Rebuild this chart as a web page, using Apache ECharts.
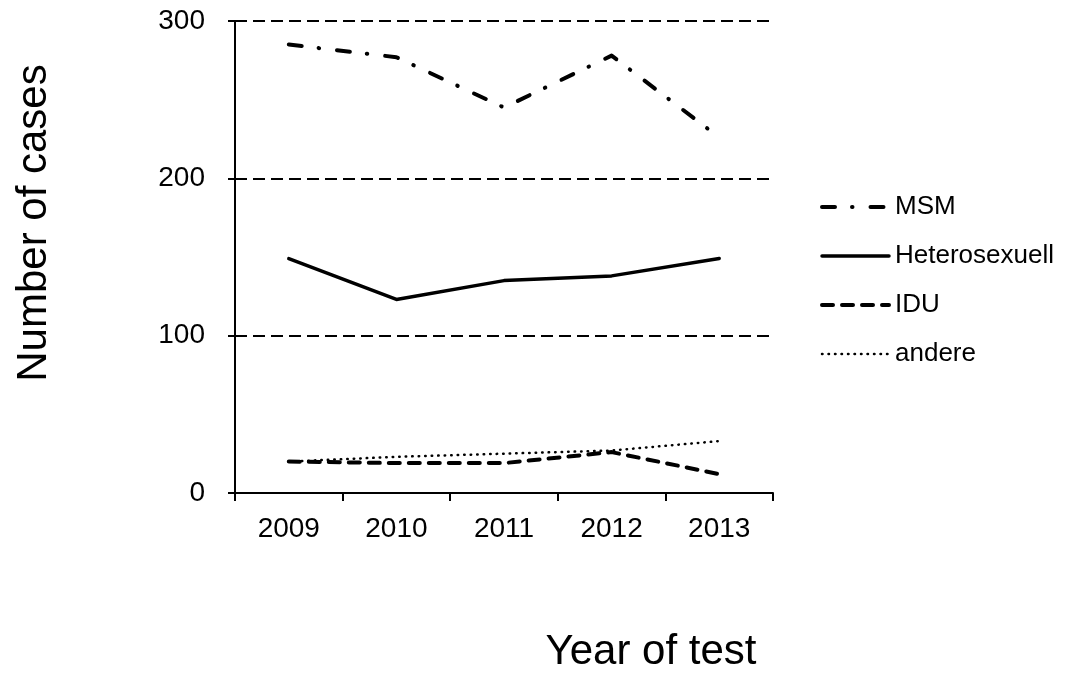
<!DOCTYPE html>
<html><head><meta charset="utf-8">
<script src="https://cdn.jsdelivr.net/npm/echarts@6/dist/echarts.min.js"></script>
<style>html,body{margin:0;padding:0;background:#fff}#c{width:1072px;height:691px}</style>
</head><body><div id="c"></div>
<script>
const years = ['2009','2010','2011','2012','2013'];
const msm = [285, 277, 245, 278, 226];
const hetero = [149, 123, 135, 138, 149];
const idu = [20, 19, 19, 26, 12];
const andere = [20, 23, 25, 27, 33];
const seriesNames = ['MSM','Heterosexuell','IDU','andere'];
const yTitle = 'Number of cases';
const xTitle = 'Year of test';

const F = '"Liberation Sans", Arial, sans-serif';
const styles = {
  'MSM': {width:4, type:[13,17,0.5,18]},
  'Heterosexuell': {width:3.5, type:'solid'},
  'IDU': {width:4, type:[11,9]},
  'andere': {width:2.5, type:[0.5,6]}
};
const chart = echarts.init(document.getElementById('c'));
function mk(name, data) {
  const s = styles[name];
  return {name, type:'line', data, symbol:'none', smooth:false,
    lineStyle:{color:'#000', width:s.width, type:s.type, cap:'round', join:'round'}, itemStyle:{color:'#000'}};
}
chart.setOption({
  animation:false,
  backgroundColor:'#fff',
  grid:{left:235, top:21, right:299, bottom:198},
  legend:{orient:'vertical', left:815, top:187, itemGap:19, itemWidth:67, itemHeight:30,
    itemStyle:{opacity:0},
    textStyle:{fontFamily:F, fontSize:26, lineHeight:30, color:'#000', padding:[0,0,0,1]},
    data:seriesNames.map(n => ({name:n,
      lineStyle:{color:'#000', width:styles[n].width, type:styles[n].type, cap:'round'}}))},
  graphic:[
    {type:'text', x:34, y:223, rotation:Math.PI/2,
      style:{text:yTitle, font:'42px ' + F, fill:'#000', textAlign:'center', textVerticalAlign:'middle'}},
    {type:'text', x:651, y:652,
      style:{text:xTitle, font:'42px ' + F, fill:'#000', textAlign:'center', textVerticalAlign:'middle'}}
  ],
  xAxis:{type:'category', data:years, boundaryGap:true,
    axisLine:{lineStyle:{color:'#000', width:2}},
    axisTick:{show:true, length:8, lineStyle:{color:'#000', width:2}},
    axisLabel:{fontFamily:F, fontSize:28, color:'#000', margin:22}},
  yAxis:{type:'value', min:0, max:300, interval:100,
    axisLine:{show:true, lineStyle:{color:'#000', width:2}},
    axisTick:{show:true, length:7, lineStyle:{color:'#000', width:2}},
    axisLabel:{fontFamily:F, fontSize:28, color:'#000', margin:30},
    splitLine:{show:true, lineStyle:{color:'#000', width:2, type:[12,6]}}},
  series: seriesNames.map((n, i) => mk(n, [msm, hetero, idu, andere][i]))
});
</script></body></html>
